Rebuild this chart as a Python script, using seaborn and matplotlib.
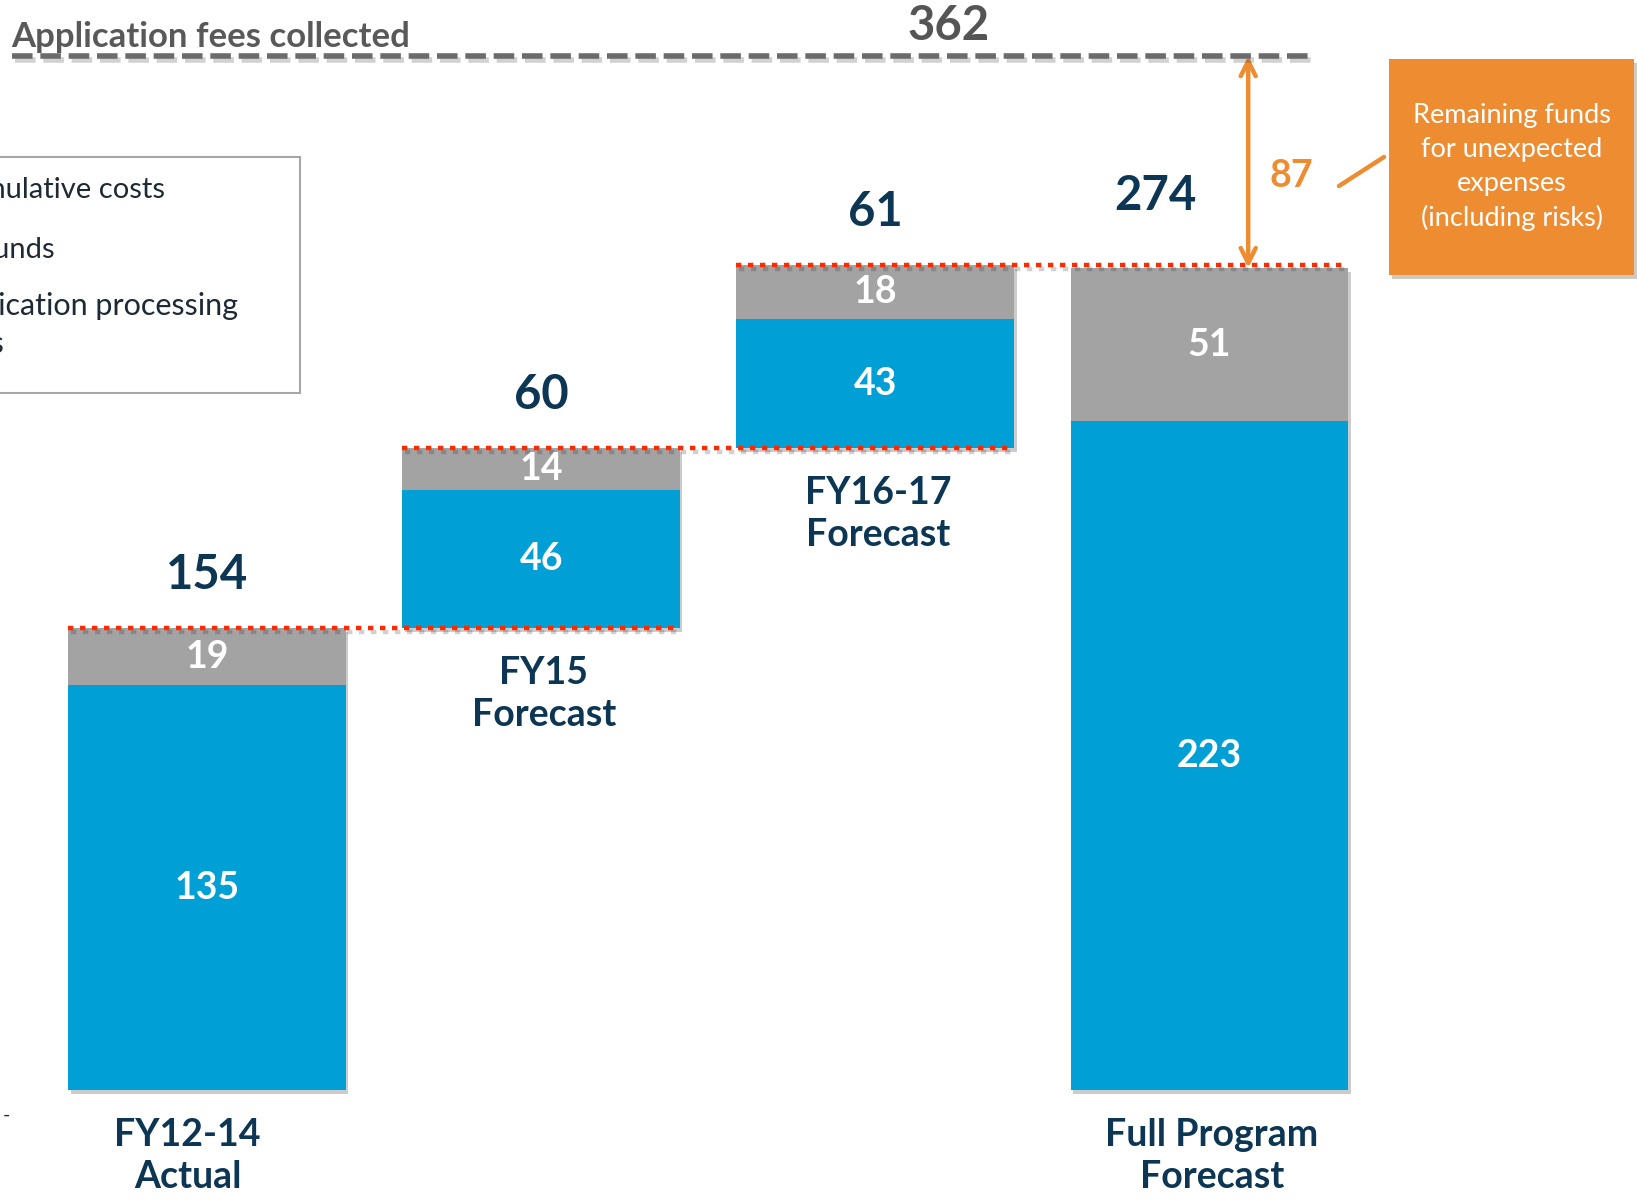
import numpy as np
import matplotlib
matplotlib.use("Agg")
import matplotlib.pyplot as plt
import matplotlib.patheffects as pe
from matplotlib.patches import Rectangle
import seaborn as sns

# =========================
# DATA
# =========================
categories = ["FY12-14\nActual", "FY15\nForecast", "FY16-17\nForecast", "Full Program\nForecast"]
processing_costs = [135, 46, 43, 223]   # blue segments
other_costs = [19, 14, 18, 51]          # gray segments
step_totals = [154, 60, 61, 274]        # labels above each bar
bar_bases = [0, 154, 214, 0]            # waterfall floor of each bar
fees_collected = 362
remaining_funds = 87

legend_labels = ["Cumulative costs", "Risk funds", "Application processing\ncosts"]
fees_label = "Application fees collected"
box_text = "Remaining funds\nfor unexpected\nexpenses\n(including risks)"

# =========================
# STYLE
# =========================
BLUE = "#009fd6"
GRAY = "#a3a3a3"
NAVY = "#0c3653"
ORANGE = "#ee8c31"
RED = "#ff2a00"
DARKGRAY = "#6b6b6b"

sns.set_theme(style="white")
plt.rcParams["font.family"] = ["Lato", "DejaVu Sans"]

fig = plt.figure(figsize=(16.37, 11.99), dpi=100)
ax = fig.add_axes([0, 0, 1, 1])

WIDTH = 0.83
tops = [b + p + o for b, p, o in zip(bar_bases, processing_costs, other_costs)]
mids = [b + p for b, p in zip(bar_bases, processing_costs)]

sns.barplot(x=categories, y=processing_costs, bottom=bar_bases, color=BLUE,
            saturation=1, width=WIDTH, errorbar=None, ax=ax)
n_blue = len(ax.patches)
sns.barplot(x=categories, y=other_costs, bottom=mids, color=GRAY,
            saturation=1, width=WIDTH, errorbar=None, ax=ax)
for k, p in enumerate(ax.patches):
    p.set_linewidth(0)
    # blue drawn over gray so the gray shadow does not show at the seam
    p.set_zorder(3 if k < n_blue else 2)
    p.set_path_effects([pe.SimplePatchShadow(offset=(2, -3), shadow_rgbFace="k", alpha=0.22),
                        pe.Normal()])

# slide is not drawn to scale: squeeze the space above the bars a little
BREAK, SQUEEZE = 275, 0.8


def fwd(v):
    v = np.asarray(v, dtype=float)
    return np.where(v > BREAK, BREAK + (v - BREAK) * SQUEEZE, v)


def inv(t):
    t = np.asarray(t, dtype=float)
    return np.where(t > BREAK, BREAK + (t - BREAK) / SQUEEZE, t)


ax.set_yscale("function", functions=(fwd, inv))
ax.set_xlim(-0.62, 4.281)
ax.set_ylim(-36.3, 385.4)
ax.axis("off")

line_shadow = [pe.SimpleLineShadow(offset=(2, -3), alpha=0.2), pe.Normal()]

# cumulative cost step lines (red dotted)
for i in range(len(categories) - 1):
    ax.plot([i - WIDTH / 2, i + 1 + WIDTH / 2], [tops[i], tops[i]], color=RED, lw=3.2,
            dashes=(1.2, 1.5), solid_capstyle="butt", path_effects=line_shadow, zorder=4)

# fees collected line (gray dashed)
ax.plot([-0.584, 3.311], [fees_collected, fees_collected], color=DARKGRAY, lw=4,
        dashes=(3.7, 1.4), path_effects=line_shadow, zorder=4)
ax.text(-0.587, fees_collected + 1.5, fees_label, color="#595959", fontsize=25, fontweight="bold",
        ha="left", va="bottom", transform=ax.transData)
ax.annotate(str(fees_collected), (2.22, fees_collected), xytext=(0, 22), textcoords="offset points",
            ha="center", va="center", fontsize=34, fontweight="bold", color="#555555")

# segment values
for i in range(len(categories)):
    ax.text(i, bar_bases[i] + processing_costs[i] / 2, str(processing_costs[i]), ha="center",
            va="center", color="white", fontsize=27, fontweight="bold", zorder=5)
    ax.text(i, mids[i] + other_costs[i] / 2, str(other_costs[i]), ha="center",
            va="center", color="white", fontsize=27, fontweight="bold", zorder=5)

# step totals above bars
for i, total in enumerate(step_totals):
    dx, dy = (-39, 52) if i == len(categories) - 1 else (0, 38)
    ax.annotate(str(total), (i, tops[i]), xytext=(dx, dy), textcoords="offset points",
                ha="center", va="center", fontsize=34, fontweight="bold", color=NAVY)

# category labels below bars
for i, cat in enumerate(categories):
    dx = -14 if i == 0 else 2
    ax.annotate(cat, (i, bar_bases[i]), xytext=(dx, -20), textcoords="offset points",
                ha="center", va="top", fontsize=27, fontweight="bold", color=NAVY,
                linespacing=1.3)

# remaining funds arrow
ax.annotate("", xy=(3.117, tops[-1]), xytext=(3.117, fees_collected),
            arrowprops=dict(arrowstyle="<->,head_length=0.9,head_width=0.45", color=ORANGE, lw=3.2,
                            shrinkA=0, shrinkB=0))
ax.text(3.245, (tops[-1] + fees_collected) / 2 - 6, str(remaining_funds), ha="center", va="center",
        fontsize=27, fontweight="bold", color=ORANGE)

# orange callout box
fig.patches.append(Rectangle((1389 / 1637, 1 - 275 / 1199), 245 / 1637, 216 / 1199,
                             transform=fig.transFigure, facecolor=ORANGE, edgecolor="none",
                             path_effects=[pe.SimplePatchShadow(offset=(2, -3), alpha=0.25), pe.Normal()]))
fig.text(1512 / 1637, 1 - 167 / 1199, box_text, ha="center", va="center", color="white",
         fontsize=19.5, linespacing=1.45)
fig.add_artist(plt.Line2D([1339 / 1637, 1384 / 1637], [1 - 186 / 1199, 1 - 157 / 1199],
                          color=ORANGE, lw=3.2, transform=fig.transFigure))

# legend box, cut off by the slide edge
fig.patches.append(Rectangle((-0.01, 1 - 393 / 1199), 316 / 1637, 236 / 1199,
                             transform=fig.transFigure, facecolor="none", edgecolor="#a6a6a6", lw=1.5))
fig.text(165 / 1637, 1 - 190 / 1199, legend_labels[0], ha="right", va="center", fontsize=21, color="#1d2a36")
fig.text(55 / 1637, 1 - 250 / 1199, legend_labels[1], ha="right", va="center", fontsize=21, color="#1d2a36")
fig.text(238 / 1637, 1 - 325 / 1199, legend_labels[2], ha="right", va="center", fontsize=22,
         color="#1d2a36", multialignment="left", linespacing=1.4)
fig.text(3 / 1637, 1 - 1115 / 1199, "-", ha="left", va="center", fontsize=14, color="#1d2a36")

fig.savefig("out.png", dpi=100)
